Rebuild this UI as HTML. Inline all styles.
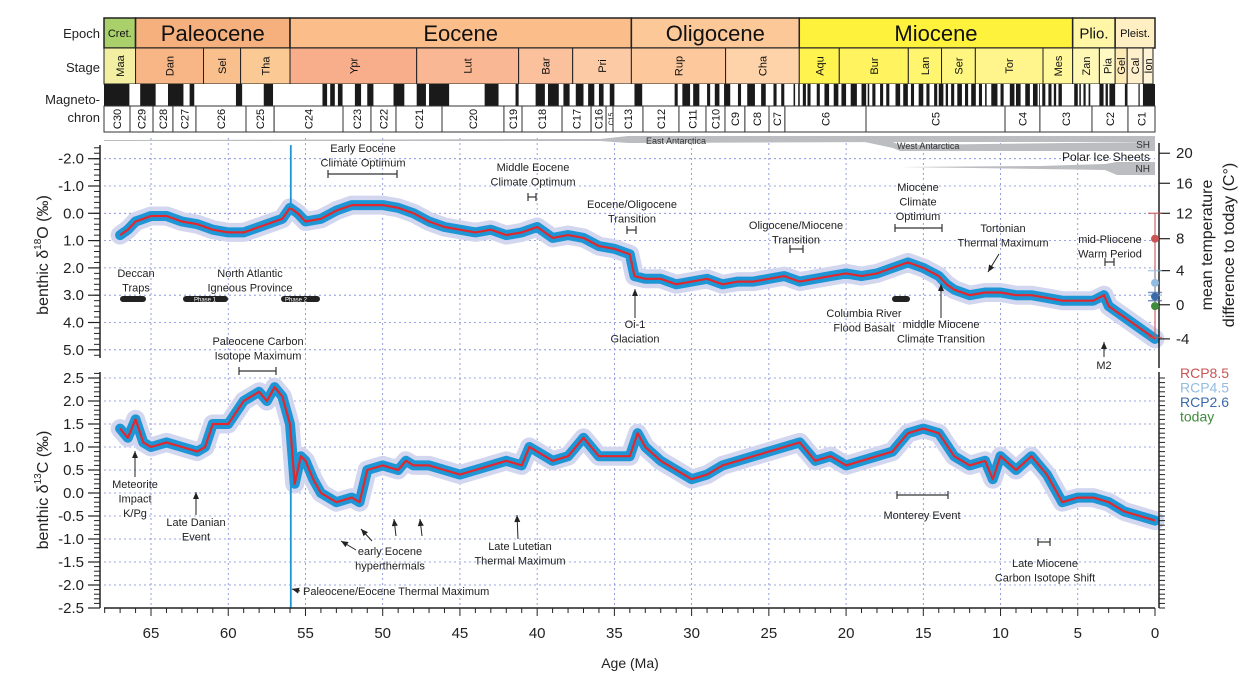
<!DOCTYPE html>
<html><head><meta charset="utf-8">
<style>
html,body{margin:0;padding:0;background:#fff;}
svg{display:block;font-family:"Liberation Sans",sans-serif;}
.ann{font-size:11px;fill:#222;text-anchor:middle;}
.tk{font-size:15px;fill:#222;}
</style></head>
<body>
<svg id="chart" width="1260" height="692" viewBox="0 0 1260 692" xmlns="http://www.w3.org/2000/svg">
<g id="header"></g>
<g id="grid"></g>
<g id="ice"></g>
<g id="series"></g>
<g id="axes"></g>
<g id="anns"></g>
</svg>
<script>
// ---- data ----
const ageO=[67,66.5,66,65.5,65,64,63,62,61,60,59,58,57,56.5,56,55.5,55,54,53,52,51,50,49,48,47,46,45,44,43,42,41,40,39,38,37,36,35,34,33.7,33,32,31,30,29,28,27,26,25,24,23,22,21,20,19,18,17,16,15,14,13.5,13,12,11,10,9,8,7,6,5,4,3.3,3,2.5,2,1,0];
const valO=[0.8,0.6,0.3,0.2,0.1,0.1,0.3,0.4,0.6,0.7,0.7,0.5,0.3,0.2,-0.2,0.0,0.3,0.2,-0.1,-0.3,-0.3,-0.3,-0.2,0.0,0.3,0.5,0.6,0.7,0.6,0.8,0.7,0.5,0.9,0.8,0.9,1.2,1.3,1.5,2.3,2.4,2.4,2.6,2.5,2.4,2.6,2.5,2.5,2.4,2.3,2.5,2.4,2.3,2.2,2.3,2.2,2.0,1.8,2.0,2.3,2.6,2.8,3.0,2.9,2.9,3.0,3.0,3.1,3.2,3.2,3.2,3.0,3.4,3.6,3.8,4.2,4.6];
const ageC=[67,66.5,66,65.5,65,64,63,62,61.5,61,60,59,58,57.5,57,56.5,56,55.7,55.3,55,54.5,54,53,52,51.5,51,50,49,48.5,48,47,46,45,44,43,42,41,40.5,40,39,38,37,36,35,34,33.5,33,32,31,30,29,28,27,26,25,24,23,22,21,20,19,18,17,16,15,14,13,12,11,10.5,10,9,8,7,6.5,6,5,4,3,2,1,0];
const valC=[1.4,1.2,1.6,1.1,1.0,1.1,1.0,0.9,1.0,1.5,1.5,2.0,2.2,2.0,2.3,2.1,1.5,0.2,0.8,0.7,0.3,0.0,-0.2,-0.1,-0.2,0.5,0.6,0.5,0.7,0.6,0.6,0.5,0.4,0.5,0.6,0.7,0.6,1.0,0.9,0.7,0.8,1.2,0.8,0.8,0.8,1.3,1.0,0.7,0.5,0.3,0.4,0.6,0.7,0.8,0.9,1.0,1.1,0.7,0.8,0.6,0.7,0.8,0.9,1.3,1.4,1.3,0.8,0.6,0.7,0.3,0.8,0.5,0.8,0.4,0.1,-0.2,-0.1,-0.1,-0.2,-0.4,-0.5,-0.6];
const spikeAge=[55.95];
const spikeO=[-2.5];
const spikeC=[-2.5];
const ticksAge=[65,60,55,50,45,40,35,30,25,20,15,10,5,0];
const ticksO=[-2.0,-1.0,0.0,1.0,2.0,3.0,4.0,5.0];
const ticksC=[2.5,2.0,1.5,1.0,0.5,0.0,-0.5,-1.0,-1.5,-2.0,-2.5];
const tempLabels=[20,16,12,8,4,0,-4];
const tempAsO=[-2.2,-1.1,0.0,0.93,2.1,3.35,4.6];
const rcpNames=["RCP8.5","RCP4.5","RCP2.6","today"];
const rcpO=[0.93,2.55,3.05,3.4];
const rcpLo=[4.55,2.1,2.9,3.4];
const rcpHi=[0.0,3.0,3.2,3.4];
const epochNames=["Cret.","Paleocene","Eocene","Oligocene","Miocene","Plio.","Pleist."];
const epochBounds=[68.1,66.0,56.0,33.9,23.03,5.33,2.58,0];
const stageNames=["Maa","Dan","Sel","Tha","Ypr","Lut","Bar","Pri","Rup","Cha","Aqu","Bur","Lan","Ser","Tor","Mes","Zan","Pia","Gel","Cal","Ion"];
const stageBounds=[68.1,66.0,61.6,59.2,56.0,47.8,41.2,37.7,33.9,27.8,23.03,20.44,15.97,13.82,11.63,7.25,5.33,3.6,2.58,1.8,0.77,0.13];
const chronNames=["C30","C29","C28","C27","C26","C25","C24","C23","C22","C21","C20","C19","C18","C17","C16","C15","C13","C12","C11","C10","C9","C8","C7","C6","C5","C4","C3","C2","C1"];
const chronBounds=[68.1,66.36,64.87,63.58,62.09,58.85,57.03,52.57,50.76,49.14,46.16,42.15,40.98,38.39,36.51,35.54,35.09,33.15,30.82,29.07,27.84,26.55,24.99,23.96,18.71,9.71,7.45,4.08,1.75,0];
const normalStart=[0,0.99,1.78,2.58,3.05,3.33,4.19,4.49,4.8,5.0,6.03,6.4,6.7,7.1,7.45,7.6,8.1,8.7,9.1,9.8,10.2,10.9,11.2,11.6,12.1,12.5,13.0,13.4,13.7,14.1,14.6,15.0,15.6,16.0,16.5,17.2,17.6,18.1,18.5,18.7,19.3,20.0,20.5,21.1,21.7,22.3,22.6,23.0,23.3,24.0,24.5,25.2,25.9,26.8,27.5,28.2,28.8,29.5,30.1,30.9,33.2,35.0,35.7,36.3,37.0,37.9,38.6,39.5,41.2,42.5,45.7,47.2,48.6,50.6,51.4,52.6,53.1,53.6,57.1,59.1,62.2,62.9,64.7,66.4];
const normalEnd=[0.78,1.07,1.95,2.95,3.2,3.6,4.3,4.63,4.9,5.23,6.25,6.55,6.9,7.3,7.5,7.9,8.4,9.0,9.4,10.0,10.6,11.0,11.4,11.9,12.3,12.8,13.2,13.55,14.0,14.3,14.8,15.3,15.8,16.3,16.8,17.4,17.8,18.3,18.6,19.0,19.7,20.3,20.8,21.4,21.9,22.5,22.8,23.1,23.4,24.2,24.7,25.5,26.4,27.0,27.9,28.5,29.0,29.9,30.6,31.1,33.7,35.3,36.0,36.7,37.5,38.3,39.3,40.1,41.4,43.4,47.0,47.8,49.3,51.0,51.8,52.9,53.4,53.9,57.7,59.5,62.5,63.9,65.7,68.1];

// ---- scales ----
const X0=1155, PXMA=15.446;
const xs=a=>X0-a*PXMA;
const yO=v=>213.3+v*27.3;
const yC=v=>493-v*46;
const NS="http://www.w3.org/2000/svg";
function mk(tag,attrs,parent,text){const e=document.createElementNS(NS,tag);for(const k in attrs)e.setAttribute(k,attrs[k]);if(text!==undefined)e.textContent=text;parent.appendChild(e);return e;}
const H=document.getElementById('header'),G=document.getElementById('grid'),I=document.getElementById('ice'),S=document.getElementById('series'),A=document.getElementById('axes'),N=document.getElementById('anns');
const L=104;

// ---- header ----
const epochCol=["#a9d06b","#f6b07d","#fbbd8a","#fdc898","#fff23c","#fff6a6","#ffefc3"];
const stageCol=["#f3efa2","#f8b585","#f9c08d","#fbc994","#f8ae8a","#f9b893","#fbc19c","#fccba6","#fdc99c","#fed3aa","#fff34f","#fff45f","#fff56f","#fff67f","#fff58c","#fff79a","#fff8b4","#fff9c4","#feeab5","#fff0cb","#fff3d7"];
const lblE=mk('text',{x:100,y:38,'text-anchor':'end','font-size':13,fill:'#222'},H,'Epoch');
const lblS=mk('text',{x:100,y:72,'text-anchor':'end','font-size':13,fill:'#222'},H,'Stage');
const lblM=mk('text',{x:100,y:104,'text-anchor':'end','font-size':13,fill:'#222'},H,'Magneto-');
mk('text',{x:100,y:122,'text-anchor':'end','font-size':13,fill:'#222'},H,'chron');
epochNames.forEach((n,i)=>{
  const x1=Math.max(L,xs(epochBounds[i])),x2=xs(epochBounds[i+1]);
  const r=mk('rect',{x:x1,y:18,width:x2-x1,height:30,fill:epochCol[i],stroke:'#222','stroke-width':1.5},H);
  
  
  const fs=(x2-x1)>100?22:(x2-x1)>40?15:11;
  mk('text',{x:(x1+x2)/2,y:33+fs*0.36,'text-anchor':'middle','font-size':fs,fill:'#111'},H,n);
});
stageNames.forEach((n,i)=>{
  const x1=Math.max(L,xs(stageBounds[i])),x2=Math.min(1155,xs(stageBounds[i+1]));
  const r=mk('rect',{x:x1,y:48,width:x2-x1,height:36,fill:stageCol[i],stroke:'#222','stroke-width':1},H);
  
  
  const cx=(x1+x2)/2;
  mk('text',{x:0,y:0,'text-anchor':'middle','font-size':11,fill:'#111',transform:`translate(${cx+4},66) rotate(-90)`},H,n);
});
mk('rect',{x:L,y:84,width:1155-L,height:22,fill:'#fff'},H);
normalStart.forEach((s,i)=>{
  const x1=xs(Math.min(normalEnd[i],68.1)),x2=xs(s);
  const r=mk('rect',{x:Math.max(L,x1),y:84,width:Math.max(0.8,x2-Math.max(L,x1)),height:22,fill:'#1a1a1a'},H);
  
  
});
mk('line',{x1:L,y1:106,x2:1155,y2:106,stroke:'#222','stroke-width':1},H);
chronNames.forEach((n,i)=>{
  const x1=Math.max(L,xs(chronBounds[i])),x2=xs(chronBounds[i+1]);
  const r=mk('rect',{x:x1,y:106,width:x2-x1,height:26,fill:'#fff',stroke:'#333','stroke-width':1},H);
  
  
  const fs=n==='C15'?7:11;
  mk('text',{x:0,y:0,'text-anchor':'middle','font-size':fs,fill:'#111',transform:`translate(${(x1+x2)/2+4},119) rotate(-90)`},H,n);
});

// ---- grid ----
ticksAge.forEach(a=>{ if(a>0){ mk('line',{x1:xs(a),y1:138,x2:xs(a),y2:606,stroke:'#7a86d6','stroke-width':0.8,'stroke-dasharray':'2,3'},G);} });
ticksO.forEach(v=>mk('line',{x1:104,y1:yO(v),x2:1155,y2:yO(v),stroke:'#7a86d6','stroke-width':0.8,'stroke-dasharray':'2,3'},G));
ticksC.forEach(v=>mk('line',{x1:104,y1:yC(v),x2:1155,y2:yC(v),stroke:'#7a86d6','stroke-width':0.8,'stroke-dasharray':'2,3'},G));

// ---- ice sheets ----
const ea=mk('path',{d:`M104,140 L600,139 L628,136 L1155,136 L1155,142 L893,142 L628,143 L600,141 L104,141 Z`,fill:'#bcbdc0'},I);

const wa=mk('path',{d:`M860,141 L893,142 L900,145 L1155,142 L1155,151 L900,151 L893,148 Z`,fill:'#bcbdc0'},I);

const nh=mk('path',{d:`M900,167 L1040,166 L1105,164 L1117,162 L1155,162 L1155,175 L1117,175 L1105,170 L1040,169 Z`,fill:'#bcbdc0'},I);

mk('text',{x:646,y:144,'font-size':9,fill:'#333'},I,'East Antarctica');
mk('text',{x:897,y:149,'font-size':9,fill:'#333'},I,'West Antarctica');
mk('text',{x:1150,y:148,'font-size':10,fill:'#333','text-anchor':'end'},I,'SH');
mk('text',{x:1150,y:172,'font-size':10,fill:'#333','text-anchor':'end'},I,'NH');
mk('text',{x:1150,y:161,'font-size':12,fill:'#222','text-anchor':'end'},I,'Polar Ice Sheets');

// ---- series ----
function pts(ag,vl,fy){return ag.map((a,i)=>xs(a).toFixed(1)+','+fy(vl[i]).toFixed(1)).join(' ');}
function drawSeries(ag,vl,fy,name){
  const g=mk('g',{},S);
  const h=mk('polyline',{points:pts(ag,vl,fy),fill:'none',stroke:'#d3d6ef','stroke-width':19,'stroke-linejoin':'round','stroke-linecap':'round'},g);
  
  const b=mk('polyline',{points:pts(ag,vl,fy),fill:'none',stroke:'#1e96d6','stroke-width':10,'stroke-linejoin':'round','stroke-linecap':'round'},g);
  
  const r=mk('polyline',{points:pts(ag,vl,fy),fill:'none',stroke:'#e0282e','stroke-width':2.2,'stroke-linejoin':'round'},g);
  
}
drawSeries(ageO,valO,yO,'d18o');
drawSeries(ageC,valC,yC,'d13c');
spikeAge.forEach((a,i)=>{
  const x=xs(a).toFixed(1);
  const so=mk('path',{d:`M${x},${yO(-0.2).toFixed(1)} L${x},${yO(spikeO[i]).toFixed(1)}`,fill:'none',stroke:'#1e96d6','stroke-width':1.8},S);
  
  const sc=mk('path',{d:`M${x},${yC(0.5).toFixed(1)} L${x},${yC(spikeC[i]).toFixed(1)}`,fill:'none',stroke:'#1e96d6','stroke-width':1.8},S);
  
});

// ---- axes ----
const ax=mk('line',{x1:104,y1:608,x2:1155,y2:608,stroke:'#222','stroke-width':1.5},A);
for(let a=68;a>=0;a--){mk('line',{x1:xs(a),y1:608,x2:xs(a),y2:a%5===0?616:613,stroke:'#222','stroke-width':1},A);}
ticksAge.forEach(a=>{const t=mk('text',{x:xs(a),y:638,'text-anchor':'middle',class:'tk'},A,String(a));});
const xt=mk('text',{x:630,y:668,'text-anchor':'middle','font-size':14,fill:'#222'},A,'Age (Ma)');
mk('line',{x1:100,y1:145,x2:100,y2:358,stroke:'#222','stroke-width':1.5},A);
for(let v=-2.4;v<=5.21;v+=0.2){mk('line',{x1:94,y1:yO(v),x2:100,y2:yO(v),stroke:'#222','stroke-width':1},A);}
ticksO.forEach(v=>{mk('line',{x1:88,y1:yO(v),x2:100,y2:yO(v),stroke:'#222','stroke-width':1.2},A);const t=mk('text',{x:84,y:yO(v)+5,'text-anchor':'end',class:'tk'},A,v.toFixed(1));});
mk('line',{x1:100,y1:372,x2:100,y2:608,stroke:'#222','stroke-width':1.5},A);
for(let v=-2.5;v<=2.61;v+=0.1){mk('line',{x1:94,y1:yC(v),x2:100,y2:yC(v),stroke:'#222','stroke-width':1},A);}
ticksC.forEach(v=>{mk('line',{x1:88,y1:yC(v),x2:100,y2:yC(v),stroke:'#222','stroke-width':1.2},A);const t=mk('text',{x:84,y:yC(v)+5,'text-anchor':'end',class:'tk'},A,v.toFixed(1));});
const yt1=mk('text',{x:0,y:0,'text-anchor':'middle','font-size':16,fill:'#222',transform:'translate(48,255) rotate(-90)'},A);

yt1.innerHTML='benthic δ<tspan dy="-7" font-size="10">18</tspan><tspan dy="7">O (‰)</tspan>';
const yt2=mk('text',{x:0,y:0,'text-anchor':'middle','font-size':16,fill:'#222',transform:'translate(48,490) rotate(-90)'},A);

yt2.innerHTML='benthic δ<tspan dy="-7" font-size="10">13</tspan><tspan dy="7">C (‰)</tspan>';
// right temp axis
mk('line',{x1:1159,y1:143,x2:1159,y2:368,stroke:'#222','stroke-width':1.5},A);
tempAsO.forEach((v,i)=>{mk('line',{x1:1159,y1:yO(v),x2:1170,y2:yO(v),stroke:'#222','stroke-width':1.2},A);const t=mk('text',{x:1176,y:yO(v)+5,class:'tk'},A,String(tempLabels[i]));});
mk('line',{x1:1159,y1:372,x2:1159,y2:608,stroke:'#222','stroke-width':1.5},A);
for(let v=-2.5;v<=2.51;v+=0.1){mk('line',{x1:1159,y1:yC(v),x2:1165,y2:yC(v),stroke:'#222','stroke-width':1},A);}
const rt=mk('text',{x:0,y:0,'text-anchor':'middle','font-size':16,fill:'#222',transform:'translate(1212,245) rotate(-90)'},A,'mean temperature');

mk('text',{x:0,y:0,'text-anchor':'middle','font-size':16,fill:'#222',transform:'translate(1234,245) rotate(-90)'},A,'difference to today (C°)');
const rcpCol=["#c85454","#93bce2","#3b6aa8","#3f8c3c"];
rcpNames.forEach((n,i)=>{
  if(rcpLo[i]!==rcpHi[i]){mk('line',{x1:1155,y1:yO(rcpLo[i]),x2:1155,y2:yO(rcpHi[i]),stroke:rcpCol[i],'stroke-width':1.5,opacity:0.7},A);
   mk('line',{x1:1148,y1:yO(rcpLo[i]),x2:1162,y2:yO(rcpLo[i]),stroke:rcpCol[i],'stroke-width':1.5,opacity:0.7},A);
   mk('line',{x1:1148,y1:yO(rcpHi[i]),x2:1162,y2:yO(rcpHi[i]),stroke:rcpCol[i],'stroke-width':1.5,opacity:0.7},A);}
  const c=mk('circle',{cx:1155,cy:yO(rcpO[i]),r:4,fill:rcpCol[i]},A);
  
  const t=mk('text',{x:1180,y:378+i*14.5,'font-size':14,fill:rcpCol[i]},A,n);
  
});

// ---- annotations ----
function ann(lines,x,y,name){const g=mk('g',{},N);lines.forEach((l,i)=>mk('text',{x:x,y:y+i*14.5,class:'ann'},g,l));}
function bar(x1,x2,y){mk('line',{x1:x1,y1:y,x2:x2,y2:y,stroke:'#333','stroke-width':1.2},N);mk('line',{x1:x1,y1:y-4,x2:x1,y2:y+4,stroke:'#333','stroke-width':1.2},N);mk('line',{x1:x2,y1:y-4,x2:x2,y2:y+4,stroke:'#333','stroke-width':1.2},N);}
function arrow(x1,y1,x2,y2){mk('line',{x1:x1,y1:y1,x2:x2,y2:y2,stroke:'#222','stroke-width':1},N);const ang=Math.atan2(y2-y1,x2-x1);const s=7,w=3;
 const p=[[x2,y2],[x2-s*Math.cos(ang)+w*Math.sin(ang),y2-s*Math.sin(ang)-w*Math.cos(ang)],[x2-s*Math.cos(ang)-w*Math.sin(ang),y2-s*Math.sin(ang)+w*Math.cos(ang)]];
 mk('polygon',{points:p.map(q=>q.join(',')).join(' '),fill:'#222'},N);}
ann(['Early Eocene','Climate Optimum'],363,152,'eeco-label');bar(328,397,174);
ann(['Middle Eocene','Climate Optimum'],533,171,'meco-label');bar(528,536,197);
ann(['Eocene/Oligocene','Transition'],632,208,'eot-label');bar(627,636,230);
ann(['Oligocene/Miocene','Transition'],796,229,'omt-label');bar(790,803,249);
ann(['Miocene','Climate','Optimum'],918,191,'mco-label');bar(895,942,228);
ann(['Tortonian','Thermal Maximum'],1003,232,'ttm-label');arrow(999,254,988,272);
ann(['mid-Pliocene','Warm Period'],1110,243,'mpwp-label');bar(1105,1114,262);
ann(['Deccan','Traps'],136,277,'deccan-traps-label');
ann(['North Atlantic','Igneous Province'],250,277,'nap-label');
ann(['Oi-1','Glaciation'],635,328,'oi1-label');arrow(635,318,635,289);
ann(['Columbia River','Flood Basalt'],864,317,'columbia-river-label');
ann(['middle Miocene','Climate Transition'],941,328,'mmct-label');arrow(941,318,941,284);
ann(['M2'],1104,369,'m2-label');arrow(1104,357,1104,342);
ann(['Paleocene Carbon','Isotope Maximum'],258,345,'pcim-label');bar(239,276,371);
ann(['Meteorite','Impact','K/Pg'],135,488,'kpg-label');arrow(135,477,135,451);
ann(['Late Danian','Event'],196,526,'lde-label');arrow(196,515,196,492);
ann(['early Eocene','hyperthermals'],390,555,'hyperthermals-label');arrow(356,550,341,541);arrow(372,541,361,529);arrow(396,536,394,519);arrow(422,536,420,519);
ann(['Late Lutetian','Thermal Maximum'],520,550,'lltm-label');arrow(518,539,517,515);
mk('text',{x:303,y:595,'font-size':11,fill:'#222'},N,'Paleocene/Eocene Thermal Maximum');arrow(300,591,292,589);
ann(['Monterey Event'],922,519,'monterey-label');bar(897,948,495);
ann(['Late Miocene','Carbon Isotope Shift'],1045,567,'lmcis-label');bar(1038,1050,542);
// volcanic provinces
[[120,146],[183,228],[281,320],[892,910]].forEach(b=>{const r=mk('rect',{x:b[0],y:296,width:b[1]-b[0],height:6,fill:'#222',rx:3},N);});
mk('text',{x:205,y:301.5,'font-size':6,fill:'#fff','text-anchor':'middle'},N,'Phase 1');
mk('text',{x:296,y:301.5,'font-size':6,fill:'#fff','text-anchor':'middle'},N,'Phase 2');
</script>
</body></html>
